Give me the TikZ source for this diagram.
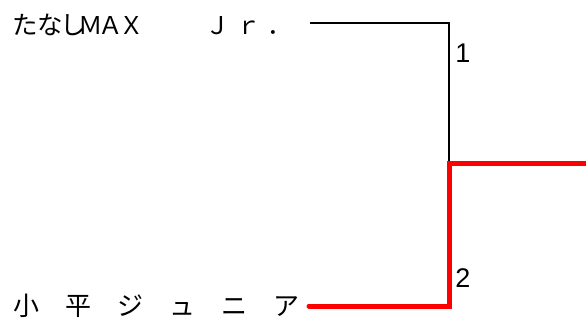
\documentclass[tikz,border=0pt]{standalone}
\usepackage{fontspec}
\newfontfamily\jpfont{Noto Sans CJK JP}
\newfontfamily\jpprop[RawFeature=+palt]{Noto Sans CJK JP}
\newfontfamily\numfont{Liberation Sans}
\usetikzlibrary{positioning}
\tikzset{player/.style={font=\jpfont\fontsize{26}{26}\selectfont,inner sep=0pt,anchor=west},
  seed/.style={font=\numfont\fontsize{27}{27}\selectfont,inner sep=0pt},
  lose/.style={draw=black,line width=1.2pt},
  win/.style={draw=red,line width=5pt,line join=miter,line cap=round}}

\begin{document}
\begin{tikzpicture}[x=1pt,y=-1pt]
 \useasboundingbox (0,0) rectangle (586,323);
 \node[player,font=\jpfont\fontsize{24.5}{24.5}\selectfont] (p1) at (13,25)
   {{\jpprop\fontsize{25.5}{25.5}\selectfont たなし}\hspace{-6pt}Ｍ\hspace{-4pt}Ａ\hspace{-4pt}Ｘ　\hspace{37pt}Ｊ\hspace{7pt}ｒ\hspace{6pt}．};
 \node[player] (p2) at (13,306) {小　平　ジ　ュ　ニ　ア};
 \coordinate (t1) at (310,23);
 \coordinate (c1) at (449,23);
 \coordinate (j) at (449,164);
 \coordinate (t2) at (309,306);
 \coordinate (c2) at (449,306);
 \coordinate (w) at (590,164);
 \draw[lose] (t1)--(c1)--(j);
 \draw[win] (t2)--(c2)--(j)--(w);
 \node[seed] (s1) at (463,53) {1};
 \node[seed] (s2) at (463,278) {2};
\end{tikzpicture}
\end{document}
